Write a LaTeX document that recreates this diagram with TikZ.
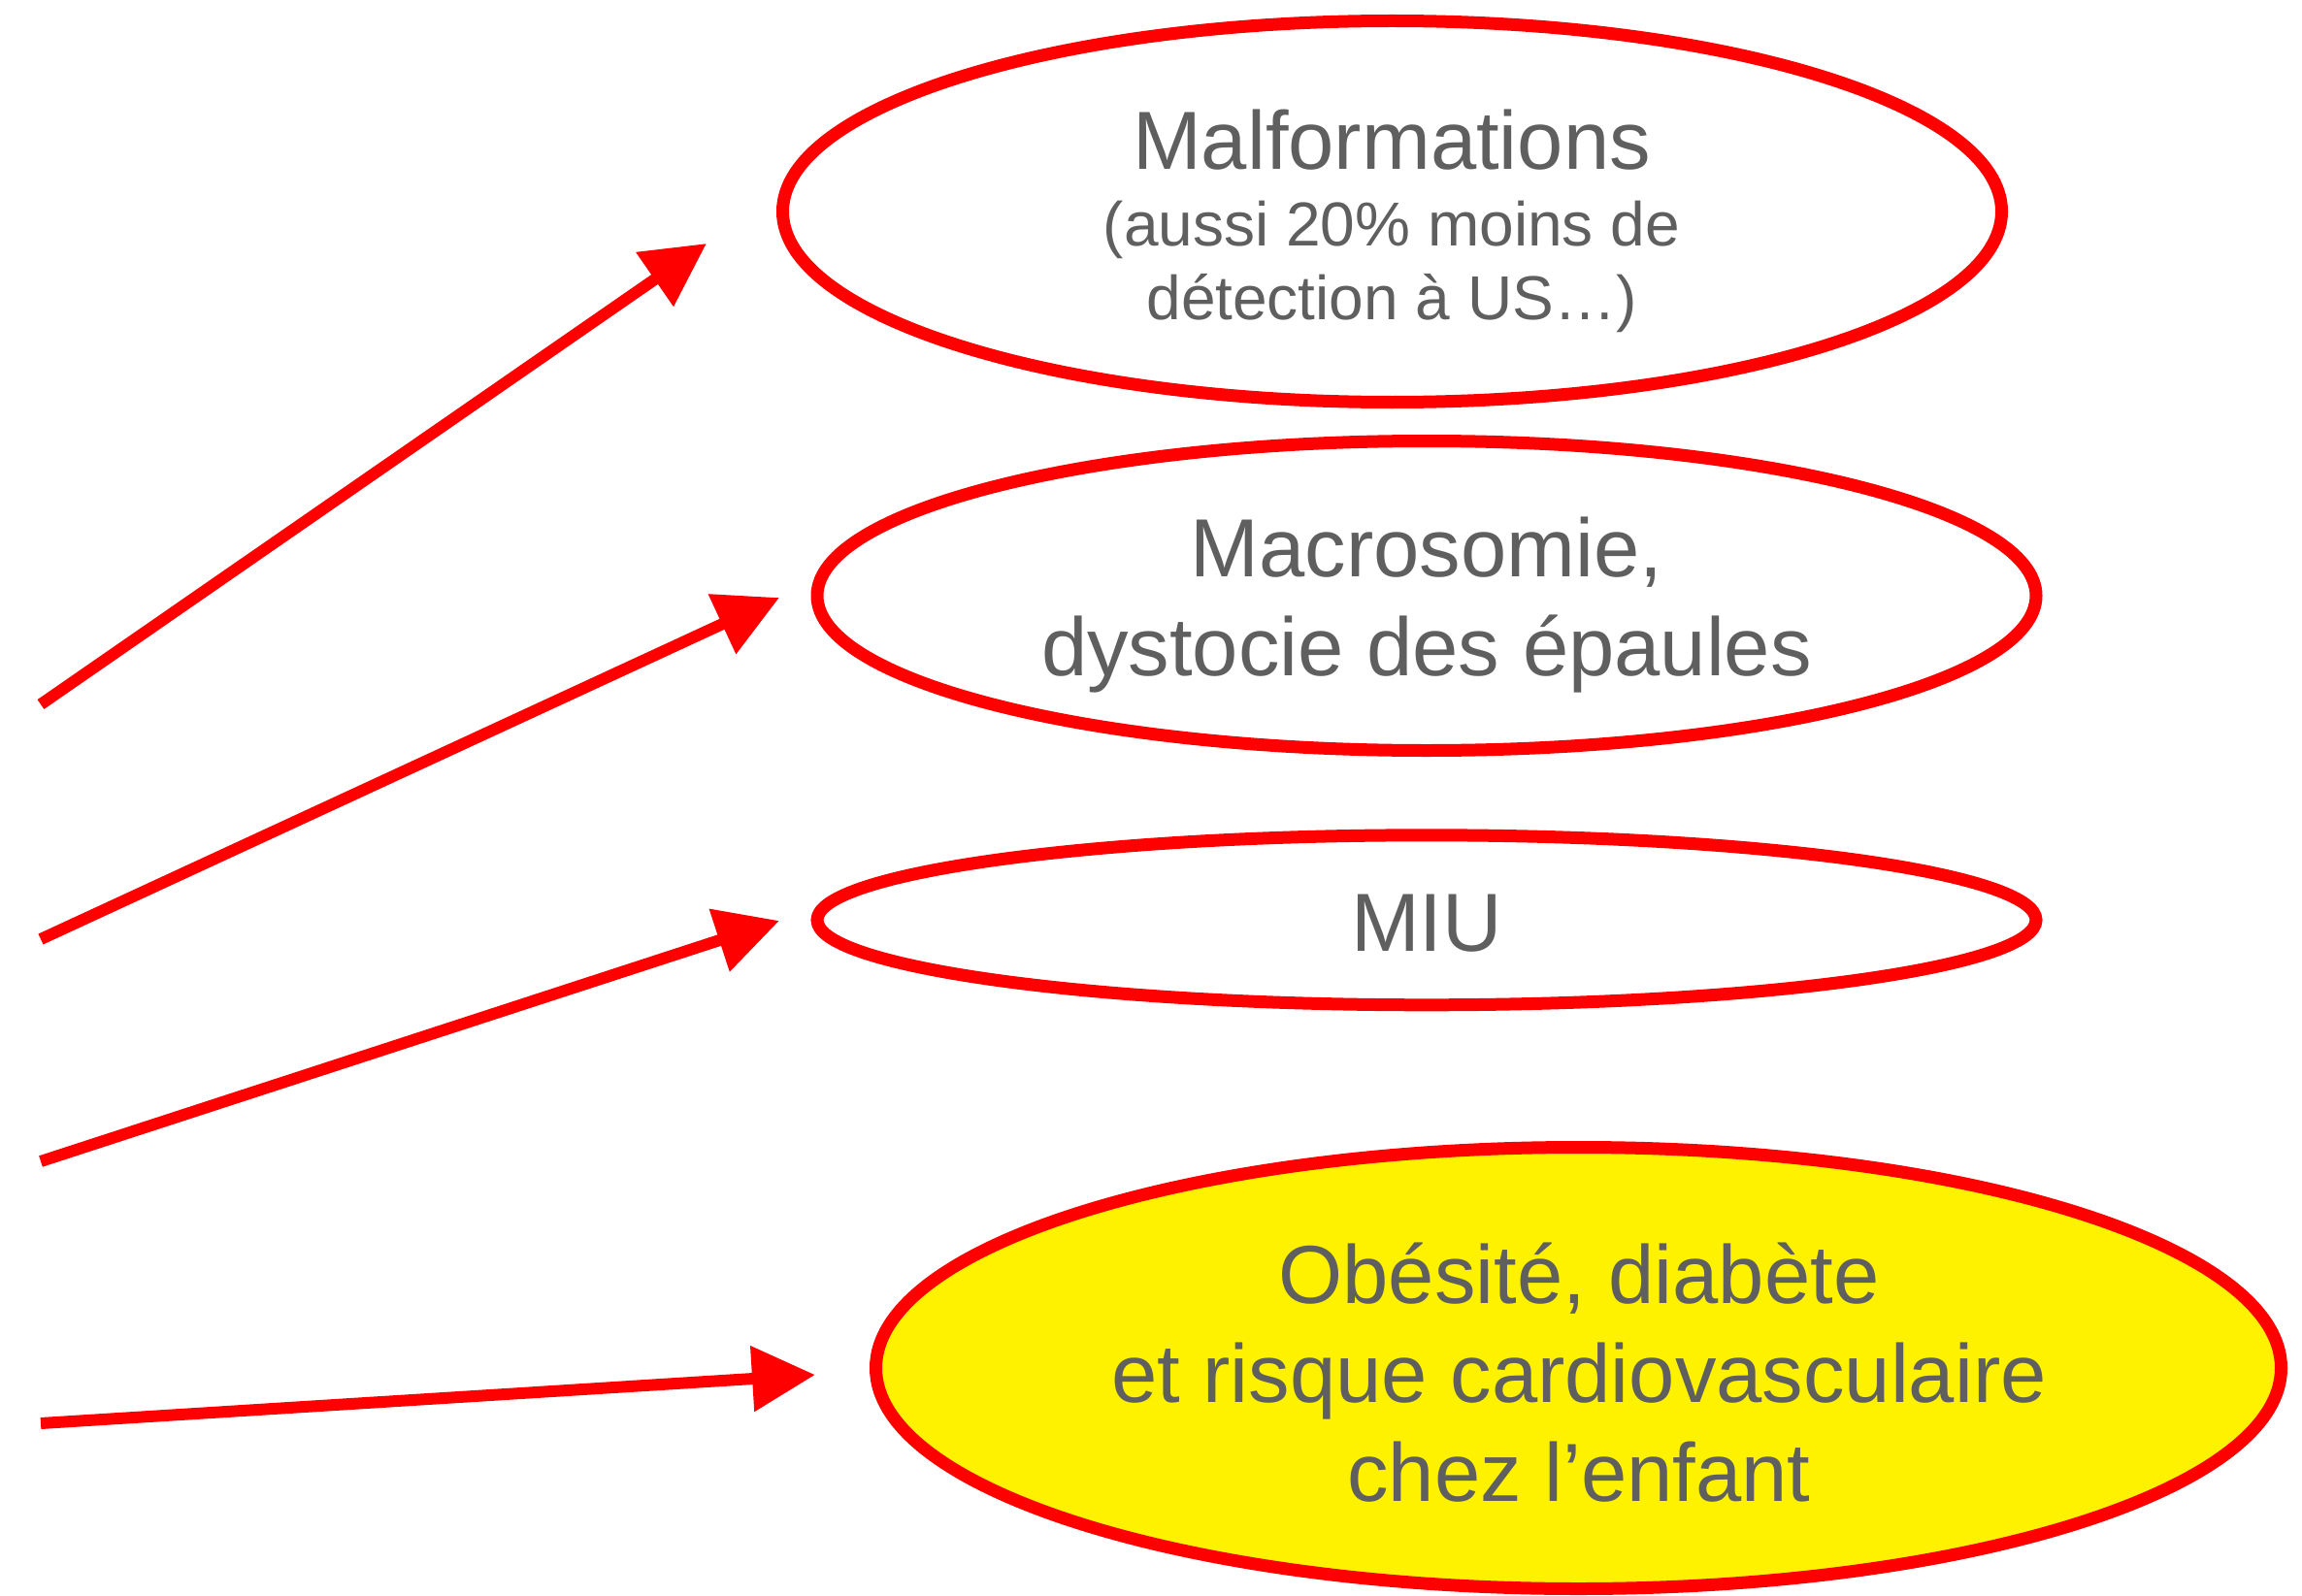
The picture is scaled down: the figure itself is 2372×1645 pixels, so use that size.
\documentclass[tikz,border=0pt]{standalone}
\usepackage{fontspec}
\setmainfont{Liberation Sans}
\usetikzlibrary{shapes.geometric,arrows.meta}
\definecolor{txtgrey}{HTML}{5F5F5F}
\begin{document}
\begin{tikzpicture}[x=1pt,y=-1pt,
  oval/.style={ellipse, draw=red, line width=13pt, inner sep=0pt},
  lbl/.style={anchor=base, text=txtgrey, inner sep=0pt, font=\fontsize{85pt}{102pt}\selectfont},
  sublbl/.style={anchor=base, text=txtgrey, inner sep=0pt, font=\fontsize{64pt}{76pt}\selectfont},
  arr/.style={draw=red, line width=12pt, -{Triangle[length=65pt,width=65pt]}}]
\useasboundingbox (0,0) rectangle (2372,1645);
% ellipses
\node[oval, minimum width=1256pt, minimum height=393pt] (e1) at (1434.5,218) {};
\node[oval, minimum width=1256pt, minimum height=319pt] (e2) at (1470,614) {};
\node[oval, minimum width=1256pt, minimum height=175pt] (e3) at (1470,948.3) {};
\node[oval, fill=yellow, minimum width=1448pt, minimum height=455pt] (e4) at (1626.5,1410) {};
% labels
\node[lbl] (t1a) at (1434,175) {Malformations};
\node[sublbl] (t1b) at (1434,254) {(aussi 20\% moins de};
\node[sublbl] (t1c) at (1434,330) {détection à US…)};
\node[lbl] (t2a) at (1470,594) {Macrosomie,};
\node[lbl] (t2b) at (1470,696) {dystocie des épaules};
\node[lbl] (t3) at (1470,980) {MIU};
\node[lbl] (t4a) at (1627,1343) {Obésité, diabète};
\node[lbl] (t4b) at (1627,1445) {et risque cardiovasculaire};
\node[lbl] (t4c) at (1627,1547) {chez l’enfant};
% arrow ends
\coordinate (s1) at (42,726);   \coordinate (a1) at (728,251);
\coordinate (s2) at (42,968);   \coordinate (a2) at (803,616);
\coordinate (s3) at (42,1197);  \coordinate (a3) at (803,949);
\coordinate (s4) at (42,1467);  \coordinate (a4) at (840,1417);
\draw[arr] (s1) -- (a1);
\draw[arr] (s2) -- (a2);
\draw[arr] (s3) -- (a3);
\draw[arr] (s4) -- (a4);
\end{tikzpicture}
\end{document}
